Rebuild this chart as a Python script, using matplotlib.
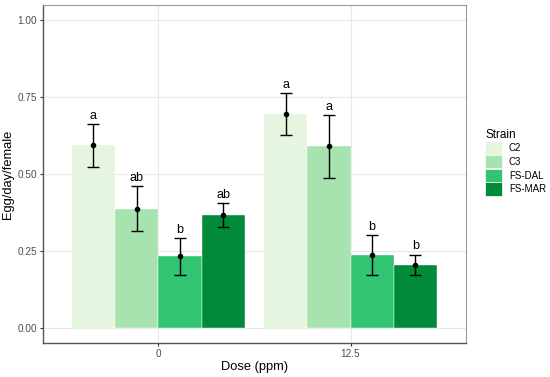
import matplotlib
matplotlib.use("Agg")
import matplotlib.pyplot as plt
from matplotlib.patches import Patch
import numpy as np

plt.rcParams['font.family'] = ['Liberation Sans', 'DejaVu Sans']

doses = ["0", "12.5"]
strains = ["C2", "C3", "FS-DAL", "FS-MAR"]
colors = ["#e5f5e0", "#a6e3ae", "#31c472", "#008a3a"]
means = {
    "C2": [0.593, 0.696],
    "C3": [0.386, 0.591],
    "FS-DAL": [0.232, 0.237],
    "FS-MAR": [0.367, 0.205],
}
err_hi = {
    "C2": [0.662, 0.763],
    "C3": [0.462, 0.692],
    "FS-DAL": [0.291, 0.302],
    "FS-MAR": [0.405, 0.238],
}
err_lo = {
    "C2": [0.524, 0.627],
    "C3": [0.313, 0.488],
    "FS-DAL": [0.170, 0.170],
    "FS-MAR": [0.329, 0.170],
}
letters = {
    "C2": ["a", "a"],
    "C3": ["ab", "a"],
    "FS-DAL": ["b", "b"],
    "FS-MAR": ["ab", "b"],
}
yticks = [0.00, 0.25, 0.50, 0.75, 1.00]
ytick_labels = ["0.00", "0.25", "0.50", "0.75", "1.00"]

fig = plt.figure(figsize=(5.5, 3.77), dpi=100)
ax = fig.add_axes([0.078, 0.090, 0.769, 0.897])

x = np.arange(1, len(doses) + 1)
w = 0.9 / len(strains)
for i, s in enumerate(strains):
    xs = x - 0.45 + w / 2 + i * w
    m = np.array(means[s])
    hi = np.array(err_hi[s])
    lo = np.array(err_lo[s])
    ax.bar(xs, m, width=w, color=colors[i], edgecolor='white', linewidth=0.3, zorder=2, label=s)
    ax.errorbar(xs, m, yerr=[m - lo, hi - m], fmt='o', color='black', markersize=3,
                elinewidth=1.0, capsize=4, capthick=1.0, zorder=3)
    for xi, h, lab in zip(xs, hi, letters[s]):
        ax.annotate(lab, (xi, h), xytext=(0, 1.5), textcoords='offset points',
                    ha='center', va='bottom', fontsize=9, color='black', zorder=4)

ax.set_xlim(0.4, 2.6)
ax.set_ylim(-0.05, 1.05)
ax.set_xticks(x)
ax.set_xticklabels(doses)
ax.set_yticks(yticks)
ax.set_yticklabels(ytick_labels)
ax.grid(True, which='major', color='#e8e8e8', linewidth=0.9, zorder=0)
ax.set_axisbelow(True)
ax.tick_params(axis='both', which='major', colors='#333333', labelcolor='#4d4d4d',
               labelsize=7.2, length=2.2, width=0.8, pad=1.8)
for sp in ['top', 'right']:
    ax.spines[sp].set_color('#999999')
    ax.spines[sp].set_linewidth(0.8)
for sp in ['left', 'bottom']:
    ax.spines[sp].set_color('#555555')
    ax.spines[sp].set_linewidth(1.0)
ax.set_xlabel("Dose (ppm)", fontsize=9.3, color='black', labelpad=2)
ax.set_ylabel("Egg/day/female", fontsize=9.3, color='black', labelpad=3)

handles = [Patch(facecolor=c, edgecolor='white', linewidth=0.5) for c in colors]
leg = fig.legend(handles, strains, loc='upper left', bbox_to_anchor=(0.882, 0.658),
                 frameon=False, fontsize=7, title="Strain", title_fontsize=8.5,
                 handlelength=1.75, handleheight=1.75, labelspacing=0.03,
                 handletextpad=0.7, borderaxespad=0, borderpad=0)
leg._legend_box.align = "left"

fig.savefig("out.png", dpi=100)
